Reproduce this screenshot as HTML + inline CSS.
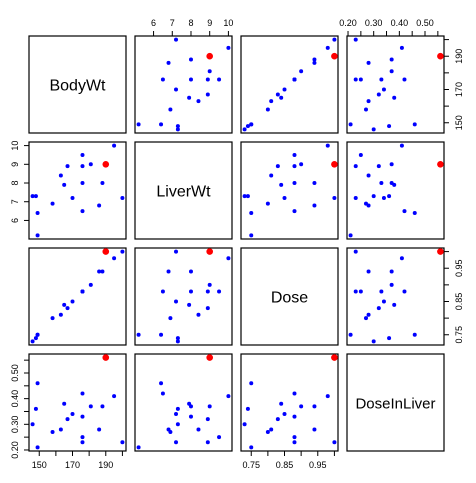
<!DOCTYPE html>
<html><head><meta charset="utf-8"><style>
body{margin:0;background:#fff}
svg{display:block;font-family:"Liberation Sans",sans-serif}
</style></head><body>
<svg id="chart" width="476" height="483"></svg>
<script>
const varNames=["BodyWt","LiverWt","Dose","DoseInLiver"];
const bodyWt=[176,176,190,176,200,167,188,195,176,165,158,148,149,163,170,186,146,181,149];
const liverWt=[6.5,9.5,9.0,8.9,7.2,8.9,8.0,10.0,8.0,7.9,6.9,7.3,5.2,8.4,7.2,6.8,7.3,9.0,6.4];
const dose=[0.88,0.88,1.00,0.88,1.00,0.83,0.94,0.98,0.88,0.84,0.80,0.74,0.75,0.81,0.85,0.94,0.73,0.90,0.75];
const doseInLiver=[0.42,0.25,0.56,0.23,0.23,0.32,0.37,0.41,0.33,0.38,0.27,0.36,0.21,0.28,0.34,0.28,0.30,0.37,0.46];
const highlightIndex=2;
const ticks=[[150,160,170,180,190,200],[6,7,8,9,10],[0.75,0.80,0.85,0.90,0.95,1.00],[0.20,0.25,0.30,0.35,0.40,0.45,0.50,0.55]];
const tickLabels=[["150","","170","","190",""],["6","7","8","9","10"],["0.75","","0.85","","0.95",""],["0.20","","0.30","","0.40","","0.50",""]];
const cols=[varNames.map((n,i)=>[bodyWt,liverWt,dose,doseInLiver][i])][0];
const X0=[29,135,241,347], Y0=[36,142,248,354], S=97;
const svg=document.getElementById('chart');
const NS="http://www.w3.org/2000/svg";
function mk(t,a,p){const e=document.createElementNS(NS,t);for(const k in a)e.setAttribute(k,a[k]);(p||svg).appendChild(e);return e;}
const ranges=cols.map(c=>{const mn=Math.min(...c),mx=Math.max(...c),p=(mx-mn)*0.04;return [mn-p,mx+p];});
function sx(v,j){const r=ranges[j];return X0[j]+(v-r[0])/(r[1]-r[0])*S;}
function sy(v,i){const r=ranges[i];return Y0[i]+S-(v-r[0])/(r[1]-r[0])*S;}
for(let i=0;i<4;i++)for(let j=0;j<4;j++){
  const g=mk('g',{});
  
  
  mk('rect',{x:X0[j],y:Y0[i],width:S,height:S,fill:'none',stroke:'#000','stroke-width':1.2},g);
  if(i===j){
    const t=mk('text',{x:X0[j]+S/2,y:Y0[i]+S/2+6,'text-anchor':'middle','font-size':j===3?15:16},g);
    t.textContent=varNames[i];
    
    
    continue;
  }
  for(let k=0;k<bodyWt.length;k++){
    if(k===highlightIndex)continue;
    const c=mk('circle',{cx:sx(cols[j][k],j),cy:sy(cols[i][k],i),r:2,fill:'#0000ff'},g);
    
    
  }
  const h=mk('circle',{cx:sx(cols[j][highlightIndex],j),cy:sy(cols[i][highlightIndex],i),r:3.3,fill:'#ff0000'},g);
  
  
}
function axis(side,idx){
  const g=mk('g',{});
  
  
  ticks[idx].forEach((v,k)=>{
    const r=ranges[idx]; if(v<r[0]||v>r[1])return;
    const lab=tickLabels[idx][k];
    if(side==='top'||side==='bottom'){
      const x=sx(v,idx), y=side==='top'?Y0[0]:Y0[3]+S, d=side==='top'?-5:5;
      mk('line',{x1:x,x2:x,y1:y,y2:y+d,stroke:'#000'},g);
      if(lab){const t=mk('text',{x:x,y:side==='top'?y-10:y+17,'text-anchor':'middle','font-size':9},g);t.textContent=lab;}
    }else{
      const y=sy(v,idx), x=side==='left'?X0[0]:X0[3]+S, d=side==='left'?-5:5;
      mk('line',{x1:x,x2:x+d,y1:y,y2:y,stroke:'#000'},g);
      if(lab){const tx=side==='left'?x-11:x+11;
        const t=mk('text',{x:tx,y:y,'text-anchor':'middle','font-size':9,transform:`rotate(-90 ${tx} ${y})`,dy:side==='left'?0:7},g);t.textContent=lab;}
    }
  });
}
axis('top',1);axis('top',3);axis('right',0);axis('right',2);axis('left',1);axis('left',3);axis('bottom',0);axis('bottom',2);
</script>
</body></html>
